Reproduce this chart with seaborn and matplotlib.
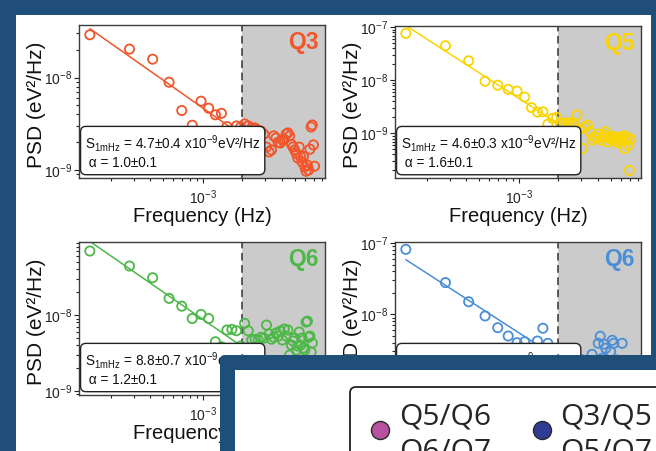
import numpy as np
import matplotlib
matplotlib.use("Agg")
import matplotlib.pyplot as plt
import seaborn as sns
from matplotlib.patches import Rectangle, FancyBboxPatch
from matplotlib.lines import Line2D
from matplotlib.ticker import NullFormatter

# frequency bins in mHz
freq_mhz = [0.139, 0.278, 0.417, 0.556, 0.694, 0.833, 0.972, 1.111, 1.250, 1.389,
            1.528, 1.667, 1.806, 1.944, 2.083, 2.222, 2.361, 2.500, 2.639, 2.778,
            2.917, 3.056, 3.194, 3.333, 3.472, 3.611, 3.750, 3.889, 4.028, 4.167,
            4.306, 4.444, 4.583, 4.722, 4.861, 5.000, 5.139, 5.278, 5.417, 5.556,
            5.694, 5.833, 5.972, 6.111, 6.250, 6.389, 6.528, 6.667, 6.806, 6.944,
            7.083]

# PSD in units of 1e-9 eV^2/Hz
psd_q3 = [29, 20.3, 15.8, 8.9, 4.4, 3.05, 5.55, 4.66, 3.95, 4.1,
          2.95, 2.64, 3.0, 2.92, 3.15, 3.0, 2.85, 2.85, 2.7, 2.64,
          2.45, 1.77, 1.57, 1.65, 2.34, 2.22, 2.0, 1.96, 2.11, 2.15,
          2.45, 2.52, 2.34, 1.9, 1.77, 1.65, 1.52, 1.35, 1.77, 1.38,
          1.22, 1.4, 1.08, 0.97, 1.13, 1.0, 1.68, 2.92, 3.07, 1.87,
          1.1]
psd_q5 = [77, 45, 23.4, 9.6, 8.1, 6.76, 6.28, 4.84, 3.07, 2.52,
          2.55, 1.5, 1.92, 2.0, 1.55, 1.55, 1.6, 1.55, 1.5, 2.22,
          1.2, 0.52, 1.3, 1.43, 1.07, 0.75, 0.86, 0.82, 0.97, 0.75,
          0.85, 0.93, 1.07, 0.69, 0.82, 0.89, 0.75, 0.85, 0.72, 0.82,
          0.66, 0.85, 0.78, 0.72, 0.89, 0.52, 0.75, 0.86, 0.6, 0.2,
          0.78]
psd_q6a = [70, 44.4, 31.1, 16.6, 13.1, 9.0, 10.2, 9.0, 4.44, 3.81,
           6.34, 6.47, 6.2, 3.9, 7.77, 6.2, 4.68, 4.77, 4.7, 5.1,
           4.96, 7.38, 5.61, 4.8, 5.1, 5.78, 5.28, 6.15, 4.68, 6.54,
           5.28, 6.34, 2.96, 4.01, 4.54, 4.96, 3.44, 3.9, 5.96, 4.01,
           4.96, 3.67, 3.44, 8.08, 8.3, 5.1, 5.28, 3.24, 4.27, 2.2,
           1.9]
psd_q6b = [82, 27.9, 15.0, 9.46, 6.47, 4.94, 3.98, 4.11, 3.32, 4.2,
           6.35, 3.9, 3.04, 2.27, 2.4, 1.94, 1.64, 2.97, 2.1, 1.75,
           1.4, 2.27, 1.19, 1.54, 1.64, 2.73, 1.64, 2.1, 3.9, 4.9,
           2.4, 3.8, 3.32, 2.1, 1.64, 2.97, 4.3, 3.9, 1.9, 2.27,
           1.64, 1.94, 1.94, 3.9, 1.27, 1.54, 1.19, 1.75, 1.0, 1.4,
           1.1]

panel_names = ["Q3", "Q5", "Q6", "Q6"]
panel_colors = ["#f2552a", "#fad400", "#4db848", "#4a8ed6"]
fit_s = [4.7, 4.6, 8.8, 5.5]
fit_s_err = [0.4, 0.3, 0.7, 0.5]
fit_alpha = [1.0, 1.6, 1.2, 1.2]
fit_alpha_err = [0.1, 0.1, 0.1, 0.1]
ylims = [(8.2e-10, 3.7e-8), (1.44e-10, 1.06e-7), (8.8e-10, 9.3e-8), (7.3e-10, 1.03e-7)]
cutoff_mhz = 2.0

legend_labels = ["Q5/Q6\nQ6/Q7", "Q3/Q5\nQ5/Q7"]
legend_colors = ["#b8519f", "#2e3c96"]

navy = "#1f4e79"

sns.set_theme(style="ticks")
plt.rcParams["font.family"] = ["Liberation Sans", "DejaVu Sans"]
plt.rcParams["mathtext.fontset"] = "custom"
plt.rcParams["mathtext.rm"] = "Liberation Sans"
plt.rcParams["mathtext.it"] = "Liberation Sans:italic"
plt.rcParams["mathtext.bf"] = "Liberation Sans:bold"

W, H = 656, 451
fig = plt.figure(figsize=(6.56, 4.51), dpi=100, facecolor=navy)

# white card behind the panels
bg = fig.add_axes([0, 0, 1, 1], zorder=-10)
bg.set_xlim(0, W)
bg.set_ylim(H, 0)
bg.axis("off")
bg.add_patch(Rectangle((16, 15), 635, 460, fc="white", ec="none"))

boxes = [(79, 25, 325, 178), (395, 26, 641, 178), (79, 241.7, 325, 395), (395, 242.3, 641, 395)]
all_psd = [psd_q3, psd_q5, psd_q6a, psd_q6b]

f = np.array(freq_mhz) * 1e-3
cutoff = cutoff_mhz * 1e-3

for i in range(4):
    l, t, r, b = boxes[i]
    ax = fig.add_axes([l / W, 1 - b / H, (r - l) / W, (b - t) / H])
    ax.set_xscale("log")
    ax.set_yscale("log")
    c = panel_colors[i]
    ax.axvspan(cutoff, 1, color="#cbcbcb", lw=0, zorder=0)
    ax.axvline(cutoff, color="#333333", lw=1.1, ls=(0, (5, 3)), zorder=1)

    p = np.array(all_psd[i]) * 1e-9
    sns.scatterplot(x=f, y=p, ax=ax, marker="o", s=44, facecolor="none",
                    edgecolor=c, linewidth=1.3, zorder=3, legend=False)
    ff = np.array([f[0], cutoff])
    fit = fit_s[i] * 1e-9 * (ff / 1e-3) ** (-fit_alpha[i])
    sns.lineplot(x=ff, y=fit, ax=ax, color=c, lw=1.1, zorder=2)

    ax.set_xlim(1.15e-4, 8.5e-3)
    ax.set_ylim(*ylims[i])
    ax.xaxis.set_minor_formatter(NullFormatter())
    ax.yaxis.set_minor_formatter(NullFormatter())
    ax.tick_params(which="both", direction="out", top=False, right=False,
                   colors="#222222", labelsize=10, width=0.8)
    ax.tick_params(which="major", length=3.5)
    ax.tick_params(which="minor", length=2)
    ax.tick_params(axis="x", pad=4)
    ax.tick_params(axis="y", pad=1.5)
    for s in ax.spines.values():
        s.set_color("#3c3c3c")
        s.set_linewidth(1.0)

    ax.set_ylabel("PSD (eV²/Hz)", fontsize=15, color="#111111")
    ax.yaxis.set_label_coords(-0.134, 0.48)
    ax.set_xlabel("Frequency (Hz)", fontsize=14.5, labelpad=0, color="#111111")

    ax.text(0.975, 0.96, panel_names[i], transform=ax.transAxes, ha="right", va="top",
            fontsize=16.5, fontweight="bold", color=c, zorder=5)

    txt = (r"S$_{\mathregular{1mHz}}$ = " + f"{fit_s[i]:.1f}±{fit_s_err[i]:.1f} x10"
           + r"$^{\mathregular{-9}}$" + "eV²/Hz\n" + f" α = {fit_alpha[i]:.1f}±{fit_alpha_err[i]:.1f}")
    ax.text(0.024, 0.05, txt, transform=ax.transAxes, ha="left", va="bottom",
            fontsize=9.8, linespacing=1.2, zorder=6, color="#111111",
            bbox=dict(boxstyle="round,pad=0.32,rounding_size=0.4", fc="white", ec="#222222", lw=1.0))

# overlapping inset card with legend
ov = fig.add_axes([0, 0, 1, 1], zorder=20)
ov.set_xlim(0, W)
ov.set_ylim(H, 0)
ov.axis("off")
ov.add_patch(FancyBboxPatch((220, 355), 600, 200, boxstyle="round,pad=0,rounding_size=5",
                            fc=navy, ec="none"))
ov.add_patch(Rectangle((235, 370), 600, 200, fc="white", ec="none"))

handles = [Line2D([], [], ls="", marker="o", ms=13, mfc=c, mec="#2a2a2a", mew=1.0)
           for c in legend_colors]
leg = ov.legend(handles, legend_labels, loc="upper left",
                bbox_to_anchor=(350 / W, 1 - 387 / H), bbox_transform=fig.transFigure,
                ncol=2, frameon=True, fancybox=True,
                prop={"family": "Open Sans", "size": 21.5},
                borderpad=0.52, handlelength=1.0, handletextpad=0.12, columnspacing=1.2,
                borderaxespad=0, framealpha=1, edgecolor="#222222")
leg.get_frame().set_linewidth(1.3)
for t in leg.get_texts():
    t.set_linespacing(1.25)
# lift the markers a little so they sit between the two label lines
for h in leg.legend_handles:
    h.set_ydata(np.asarray(h.get_ydata()) + 3.6)

fig.savefig("out.png", dpi=100, facecolor=fig.get_facecolor())
